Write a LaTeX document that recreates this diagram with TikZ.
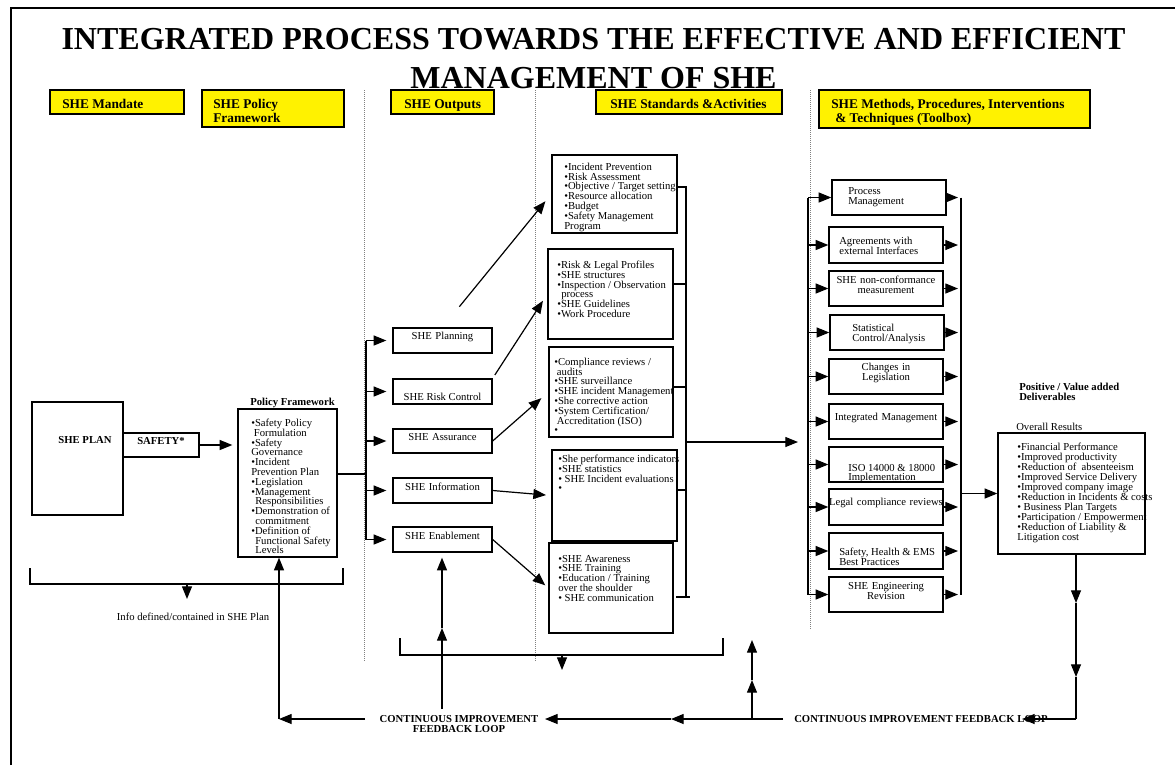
\documentclass[tikz,border=0pt]{standalone}
\usepackage{fontspec}
\setmainfont{Liberation Serif}
\usetikzlibrary{arrows.meta,fit}
\lineskiplimit=-20pt

\begin{document}
\begin{tikzpicture}[x=0.75pt,y=-0.75pt,
  box/.style={draw,line width=1pt,inner sep=0pt},
  hdr/.style={draw,fill=yellow,line width=1pt,inner sep=0pt},
  txt/.style={font=\fontsize{8}{7.35}\selectfont,align=left,inner sep=0pt,anchor=north west},
  ctr/.style={font=\fontsize{8}{7.5}\selectfont,align=center},
  htxt/.style={font=\fontsize{10}{10}\selectfont\bfseries,align=left,inner sep=0pt,anchor=north west},
  btxt/.style={font=\fontsize{8}{7.5}\selectfont\bfseries,inner sep=0pt},
  arr/.style={-{Triangle[length=9.5pt,width=7.5pt]},line width=0.9pt},
  ln/.style={line width=0.9pt},
  sep/.style={densely dotted,gray,line width=0.5pt}]
\useasboundingbox (0,0) rectangle (1175,765);

% frame and title
\draw[line width=2.2pt] (11,765) -- (11,8) -- (1175,8);
\node[font=\fontsize{24}{29.25}\selectfont\bfseries,align=center,inner sep=0pt,anchor=north] (title) at (593.5,28)
  {INTEGRATED PROCESS TOWARDS THE EFFECTIVE AND EFFICIENT\\MANAGEMENT OF SHE};

% column headers
\node[hdr,fit={(50,90) (184,114)}] (hmand) {};
\node[htxt] (hmandt) at (62,99.4) {SHE Mandate};
\node[hdr,fit={(202,90) (344,127)}] (hpol) {};
\node[htxt] (hpolt) at (213,99.4) {SHE Policy\\Framework};
\node[hdr,fit={(391,90) (494,114)}] (hout) {};
\node[htxt] (houtt) at (404,99.4) {SHE Outputs};
\node[hdr,fit={(596,90) (782,114)}] (hstd) {};
\node[htxt] (hstdt) at (610,99.4) {SHE Standards \&Activities};
\node[hdr,fit={(819,90) (1090,128)}] (hmeth) {};
\node[htxt] (hmetht) at (831,99.4) {SHE Methods, Procedures, Interventions\\\hspace*{3pt}\& Techniques (Toolbox)};

% column separators
\draw[sep] (364,90) -- (364,662);
\draw[sep] (535,90) -- (535,662);
\draw[sep] (810,90) -- (810,630);

% mandate and policy
\node[box,fit={(32,402) (123,515)}] (plan) {};
\node[btxt] (plant) at (85,440) {SHE PLAN};
\node[box,fit={(123,433) (199,457)},btxt] (safety) {SAFETY*};
\node[box,fit={(238,409) (337,557)}] (pol) {};
\node[btxt,anchor=base] (polt) at (292.5,405) {\underline{Policy Framework}};
\node[txt] (poltx) at (251,418.7) {•Safety Policy\\\hspace*{2pt}Formulation\\•Safety\\Governance\\•Incident\\Prevention Plan\\•Legislation\\•Management\\\hspace*{3pt}Responsibilities\\•Demonstration of\\\hspace*{3pt}commitment\\•Definition of\\\hspace*{3pt}Functional Safety\\\hspace*{3pt}Levels};
\draw[arr,shorten >=3.75pt] (safety.east) -- (safety.east -| pol.west);

\coordinate (ib1) at (30,568);
\coordinate (ib2) at (343,568);
\coordinate (ibm) at (187,584);
\coordinate (ibtip) at (187,599);
\draw[ln] (ib1) -- (ib1 |- ibm) -- (ib2 |- ibm) -- (ib2);
\draw[arr] (ibm) -- (ibtip);
\node[font=\fontsize{8}{8}\selectfont,inner sep=0pt] (info) at (193,617) {Info defined/contained in SHE Plan};

% outputs
\node[box,fit={(393,328) (492,353)},ctr] (oplan) {SHE Planning};
\node[box,fit={(393,379) (492,404)}] (orisk) {};
\node[ctr,inner sep=0pt] (oriskt) at (442.5,397) {SHE Risk Control};
\node[box,fit={(393,429) (492,453)},ctr] (oassur) {SHE Assurance};
\node[box,fit={(393,478) (492,503)},ctr] (oinfo) {SHE Information};
\node[box,fit={(393,527) (492,552)},ctr] (oenab) {SHE Enablement};

\coordinate (obt) at (366,341);
\coordinate (obb) at (366,540);
\coordinate (pc) at (366,474);
\draw[ln] (obt) -- (obb);
\draw[ln] (pc -| pol.east) -- (pc);
\foreach \n in {oplan,orisk,oassur,oinfo,oenab}
  \draw[arr,shorten >=4.5pt] (obt |- \n.west) -- (\n.west);

% standards and activities
\node[box,fit={(552,155) (677,233)}] (s1) {};
\node[txt] (s1t) at (564,162.7) {•Incident Prevention\\•Risk Assessment\\•Objective / Target setting\\•Resource allocation\\•Budget\\•Safety Management\\Program};
\node[box,fit={(548,249) (673,339)}] (s2) {};
\node[txt] (s2t) at (557,260.7) {•Risk \& Legal Profiles\\•SHE structures\\•Inspection / Observation\\\hspace*{3pt}process\\•SHE Guidelines\\•Work Procedure};
\node[box,fit={(549,347) (673,437)}] (s3) {};
\node[txt] (s3t) at (554,357.7) {•Compliance reviews /\\\hspace*{2pt}audits\\•SHE surveillance\\•SHE incident Management\\•She corrective action\\•System Certification/\\\hspace*{2pt}Accreditation (ISO)\\•};
\node[box,fit={(552,450) (677,541)}] (s4) {};
\node[txt] (s4t) at (558,454.7) {•She performance indicators\\•SHE statistics\\• SHE Incident evaluations\\•};
\node[box,fit={(549,543) (673,633)}] (s5) {};
\node[txt] (s5t) at (558,554.7) {•SHE Awareness\\•SHE Training\\•Education / Training\\over the shoulder\\• SHE communication};

\draw[arr,shorten <=20pt,shorten >=7pt] (oplan.north) -- (s1.west);
\draw[arr,shorten <=3pt,shorten >=6pt] (orisk.north east) -- (s2.west);
\draw[arr,shorten >=7pt] (oassur.east) -- (s3.west);
\draw[arr,shorten >=4pt] (oinfo.east) -- (s4.west);
\draw[arr,shorten >=3pt] (oenab.east) -- (s5.west);

\coordinate (sb1) at (686,187);
\coordinate (sb2) at (686,284);
\coordinate (sb3) at (686,387);
\coordinate (sb4) at (686,490);
\coordinate (sb5) at (686,597);
\coordinate (sbo) at (686,442);
\coordinate (tbin) at (798,442);
\draw[ln] (s1.east |- sb1) -- (sb1) -- (sb5);
\draw[ln] (s2.east |- sb2) -- (sb2);
\draw[ln] (s3.east |- sb3) -- (sb3);
\draw[ln] (s4.east |- sb4) -- (sb4);
\draw[ln] (676,597) -- (690,597);
\draw[arr] (sbo) -- (tbin);

% toolbox
\node[box,fit={(832,180) (946,215)}] (k1) {};
\node[txt,font=\fontsize{8}{7.5}\selectfont] (k1t) at (848,187.7) {Process\\Management};
\node[box,fit={(829,227) (943,263)}] (k2) {};
\node[txt,font=\fontsize{8}{7.5}\selectfont] (k2t) at (839,236.7) {Agreements with\\external Interfaces};
\node[box,fit={(829,271) (943,306)},ctr] (k3) {SHE non-conformance\\measurement};
\node[box,fit={(830,315) (944,350)}] (k4) {};
\node[txt,font=\fontsize{8}{7.5}\selectfont] (k4t) at (852,323.7) {Statistical\\Control/Analysis};
\node[box,fit={(829,359) (943,394)},ctr] (k5) {Changes in\\Legislation};
\node[box,fit={(829,404) (943,439)},ctr] (k6) {Integrated Management};
\node[box,fit={(829,447) (943,482)}] (k7) {};
\node[txt,font=\fontsize{8}{6.75}\selectfont] (k7t) at (848,463.7) {ISO 14000 \& 18000\\Implementation};
\node[box,fit={(829,489) (943,525)},ctr] (k8) {Legal compliance reviews};
\node[box,fit={(829,533) (943,569)}] (k9) {};
\node[txt,font=\fontsize{8}{7.5}\selectfont] (k9t) at (839,547.7) {Safety, Health \& EMS\\Best Practices};
\node[box,fit={(829,577) (943,612)},ctr] (k10) {SHE Engineering\\Revision};

\coordinate (klt) at (808,197.5);
\coordinate (klb) at (808,594.5);
\coordinate (krt) at (961,197.5);
\coordinate (krb) at (961,594.5);
\draw[ln] (klt) -- (klb);
\draw[ln] (krt) -- (krb);
\foreach \k in {k1,k2,k3,k4,k5,k6,k7,k8,k9,k10}{
  \draw[arr] (klt |- \k.west) -- (\k.west);
  \draw[arr,shorten >=2.25pt] (\k.east) -- (krt |- \k.east);
}

% deliverables
\node[btxt,align=left,anchor=north west] (delt) at (1019,382.7) {Positive / Value added\\Deliverables};
\node[font=\fontsize{8}{8}\selectfont,inner sep=0pt,anchor=base west] (overt) at (1016,430) {\underline{Overall Results}};
\node[box,fit={(998,433) (1145,554)}] (res) {};
\node[txt,font=\fontsize{8}{7.5}\selectfont] (rest) at (1017,442.7) {•Financial Performance\\•Improved productivity\\•Reduction of\ \ absenteeism\\•Improved Service Delivery\\•Improved company image\\•Reduction in Incidents \& costs\\• Business Plan Targets\\•Participation / Empowerment\\•Reduction of Liability \&\\Litigation cost};
\draw[arr] (krt |- res.west) -- (res.west);

% outputs bracket
\coordinate (ob1) at (400,638);
\coordinate (ob2) at (723,638);
\coordinate (obm) at (562,655);
\coordinate (obtip) at (562,670);
\draw[ln] (ob1) -- (ob1 |- obm) -- (ob2 |- obm) -- (ob2);
\draw[arr] (obm) -- (obtip);

% feedback loop
\node[btxt,align=center,anchor=north] (loopl) at (459,715.4) {CONTINUOUS IMPROVEMENT\\FEEDBACK LOOP};
\node[btxt,anchor=west] (loopr) at (794,719) {CONTINUOUS IMPROVEMENT FEEDBACK LOOP};

\coordinate (rb) at (1076,719);
\coordinate (ra1) at (1076,603);
\coordinate (ra2) at (1076,677);
\coordinate (rtip) at (1022,719);
\draw[arr] (rb |- res.south) -- (ra1);
\draw[arr] (ra1) -- (ra2);
\draw[ln] (ra2) -- (rb);
\draw[arr] (rb) -- (rtip);

\coordinate (la1) at (783,719);
\coordinate (la2) at (671,719);
\coordinate (la3) at (545,719);
\draw[arr] (la1) -- (la2);
\draw[arr] (la2) -- (la3);

\coordinate (ua0) at (752,719);
\coordinate (ua1) at (752,680);
\coordinate (ua2) at (752,640);
\draw[arr] (ua0) -- (ua1);
\draw[arr] (ua1) -- (ua2);

\coordinate (ea0) at (442,709);
\coordinate (ea1) at (442,628);
\draw[arr] (ea0) -- (ea1);
\draw[arr,shorten >=3.75pt] (ea1) -- (ea1 |- oenab.south);

\coordinate (lb0) at (365,719);
\coordinate (lb1) at (279,719);
\draw[arr] (lb0) -- (lb1);
\draw[arr] (lb1) -- (lb1 |- pol.south);
\end{tikzpicture}
\end{document}
